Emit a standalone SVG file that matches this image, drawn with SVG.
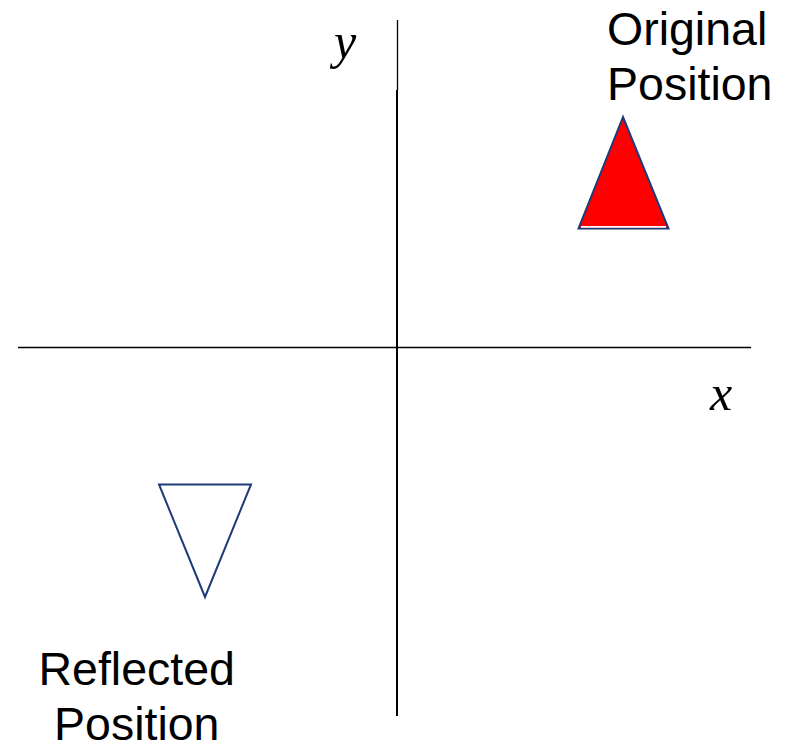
<svg xmlns="http://www.w3.org/2000/svg" width="790" height="748" viewBox="0 0 790 748">
<style>
.lbl{font-family:"Liberation Sans",Arial,sans-serif;font-size:46.5px;fill:#000}
.math{font-family:"Liberation Serif","DejaVu Serif",serif;font-style:italic;font-size:50px;fill:#000}
.axis{stroke:#000;fill:none}
.tri{stroke:#1F3A78;stroke-width:2;stroke-linejoin:miter}
</style>
<rect width="790" height="748" fill="#fff"/>
<g id="axes">
<line class="axis" x1="397.5" y1="20" x2="397.5" y2="90" stroke-width="1.3"/>
<line class="axis" x1="397" y1="90" x2="397" y2="716" stroke-width="2"/>
<line class="axis" x1="18" y1="347.5" x2="751" y2="347.5" stroke-width="1.6"/>
</g>
<g id="label-y"><text class="math" x="334" y="58">y</text></g>
<g id="label-x"><text class="math" x="710" y="410">x</text></g>
<g id="original">
<polygon class="tri" points="623,117 578.5,228.5 668.5,228.5" fill="#FF0000"/>
<line x1="581" y1="226.8" x2="666" y2="226.8" stroke="#fff" stroke-width="1.8"/>
</g>
<g id="reflected">
<polygon class="tri" points="159,484.5 251,484.5 205,597" fill="#fff"/>
</g>
<g id="label-original">
<text class="lbl" x="607" y="45">Original</text>
<text class="lbl" x="607" y="100">Position</text>
</g>
<g id="label-reflected">
<text class="lbl" x="38.5" y="685">Reflected</text>
<text class="lbl" x="54" y="740">Position</text>
</g>
</svg>
